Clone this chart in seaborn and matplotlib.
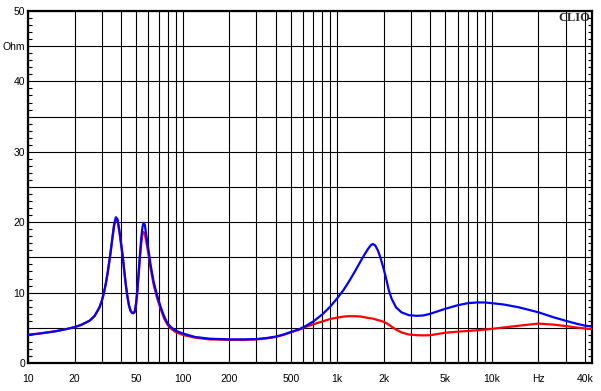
import matplotlib
matplotlib.use("Agg")
import matplotlib.pyplot as plt
import pandas as pd
import seaborn as sns

# impedance readings (Hz, Ohm)
freq = [10, 12, 15, 18, 20, 22, 25, 27, 29, 30, 31, 32, 33, 34, 35, 36, 37, 38, 39, 40,
        41, 42, 43, 44, 45, 46, 47, 48, 49, 50, 51, 52, 53, 54, 55, 56, 57, 58, 60, 62,
        65, 68, 72, 76, 80, 85, 90, 100, 120, 150, 200, 250, 300, 350, 400, 450, 500, 570,
        630, 700, 800, 900, 1000, 1100, 1200, 1300, 1420, 1500, 1580, 1650, 1700, 1760,
        1830, 1900, 2000, 2080, 2150, 2250, 2400, 2600, 2900, 3270, 3600, 4000, 5000,
        6000, 7000, 8000, 9000, 10000, 12000, 15000, 20000, 25000, 30000, 35000, 40000, 44400]

blue = [4.0, 4.2, 4.5, 4.85, 5.1, 5.4, 6.0, 6.7, 7.9, 8.8, 10.0, 11.5, 13.3, 15.3, 17.5, 19.6, 20.7, 20.4, 18.8, 17.0,
        15.2, 13.0, 11.0, 9.4, 8.2, 7.5, 7.15, 7.1, 7.3, 8.5, 10.5, 13.0, 15.5, 17.8, 19.3, 19.9, 19.6, 18.4, 16.2, 14.0,
        11.5, 9.8, 8.0, 6.6, 5.6, 5.0, 4.6, 4.2, 3.7, 3.45, 3.35, 3.35, 3.4, 3.55, 3.75, 4.05, 4.4, 4.8,
        5.3, 5.9, 6.9, 8.0, 9.2, 10.4, 11.7, 13.0, 14.5, 15.4, 16.2, 16.75, 16.9, 16.7,
        16.0, 15.0, 13.3, 11.8, 10.4, 9.1, 7.9, 7.2, 6.8, 6.7, 6.75, 7.0, 7.7,
        8.2, 8.5, 8.6, 8.6, 8.5, 8.3, 7.9, 7.2, 6.5, 6.0, 5.6, 5.3, 5.2]

red = [4.0, 4.2, 4.5, 4.85, 5.1, 5.4, 6.0, 6.7, 7.9, 8.8, 10.0, 11.5, 13.3, 15.3, 17.4, 19.4, 20.4, 20.1, 18.6, 16.8,
       15.0, 12.8, 10.9, 9.3, 8.1, 7.4, 7.1, 7.05, 7.2, 8.3, 10.2, 12.6, 15.0, 17.0, 18.3, 18.6, 18.3, 17.4, 15.6, 13.5,
       11.1, 9.4, 7.7, 6.3, 5.4, 4.8, 4.4, 4.0, 3.6, 3.35, 3.3, 3.3, 3.35, 3.5, 3.7, 4.0, 4.35, 4.75,
       5.15, 5.5, 5.9, 6.25, 6.45, 6.6, 6.65, 6.65, 6.6, 6.5, 6.4, 6.35, 6.3, 6.2,
       6.1, 6.0, 5.85, 5.65, 5.45, 5.15, 4.75, 4.35, 4.05, 3.95, 3.92, 3.95, 4.3,
       4.45, 4.55, 4.65, 4.75, 4.85, 5.05, 5.3, 5.6, 5.45, 5.25, 5.05, 4.9, 4.8]

xtick_vals = [10, 20, 50, 100, 200, 500, 1000, 2000, 5000, 10000, 20000, 40000]
xtick_labels = ["10", "20", "50", "100", "200", "500", "1k", "2k", "5k", "10k", "Hz", "40k"]
xgrid_vals = [m * d for d in [10, 100, 1000, 10000] for m in range(1, 10)
              if 10 <= m * d <= 40000]
ytick_vals = [0, 5, 10, 15, 20, 25, 30, 35, 40, 45, 50]
ytick_labels = ["0", "", "10", "", "20", "", "30", "", "40", "Ohm", "50"]

df = pd.DataFrame({"freq": freq, "blue": blue, "red": red})

sns.set_style("white")
plt.rcParams["font.family"] = ["Liberation Sans", "DejaVu Sans"]

fig = plt.figure(figsize=(6.01, 3.91), dpi=100)
ax = fig.add_axes([28 / 601, 28 / 391, 564 / 601, 352 / 391])

sns.lineplot(data=df, x="freq", y="red", color="#ff0000", linewidth=1.6, ax=ax, zorder=3)
sns.lineplot(data=df, x="freq", y="blue", color="#0000ff", linewidth=1.6, ax=ax, zorder=4)

ax.set_xscale("log")
ax.set_xlim(10, 44400)
ax.set_ylim(0, 50)

ax.xaxis.set_major_locator(matplotlib.ticker.FixedLocator(xtick_vals))
ax.xaxis.set_minor_locator(matplotlib.ticker.FixedLocator([v for v in xgrid_vals if v not in xtick_vals]))
ax.set_xticklabels(xtick_labels)
ax.xaxis.set_minor_formatter(matplotlib.ticker.NullFormatter())
ax.set_yticks(ytick_vals)
ax.set_yticklabels(ytick_labels)
ax.yaxis.set_minor_locator(matplotlib.ticker.MultipleLocator(1))

ax.grid(True, which="both", axis="x", color="black", linewidth=0.8)
ax.grid(True, which="major", axis="y", color="black", linewidth=0.8)

ax.tick_params(axis="x", which="both", length=0, pad=8, labelsize=7.5, colors="black")
ax.tick_params(axis="y", which="major", length=0, pad=2, labelsize=7.5, colors="black")
ax.tick_params(axis="y", which="minor", direction="in", length=3, width=0.8,
               left=True, right=True, color="black")

for side in ax.spines.values():
    side.set_color("black")
    side.set_linewidth(1.6)

ax.set_xlabel("")
ax.set_ylabel("")
ax.text(0.997, 0.997, "CLIO", transform=ax.transAxes, ha="right", va="top",
        fontsize=9, fontweight="bold", family=["Liberation Serif", "DejaVu Serif"], zorder=5)

fig.savefig("out.png", dpi=100)
